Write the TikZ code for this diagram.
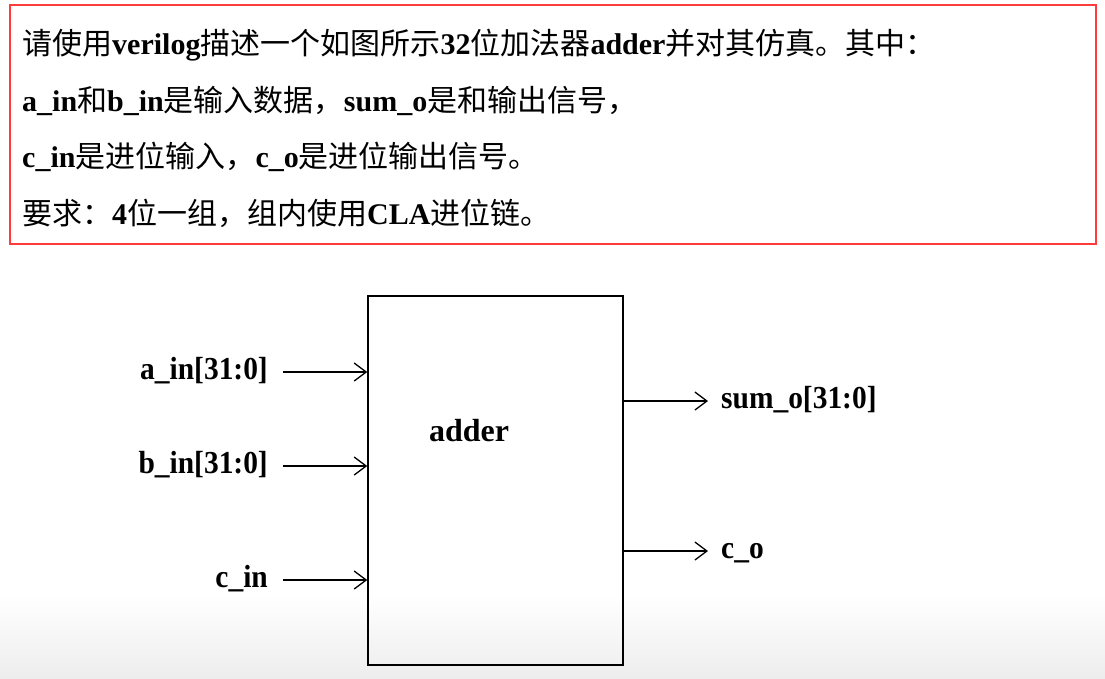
\documentclass[tikz,border=0pt]{standalone}
\usepackage{fontspec}
\usepackage{graphicx}
\setmainfont{Liberation Serif}
\newfontfamily\cjk{Noto Sans CJK SC}
\usetikzlibrary{arrows.meta}
\newcommand\zh[1]{{\cjk\mdseries #1}}
\tikzset{
  every picture/.style={x=1pt,y=-1pt},
  topline/.style={anchor=base west,inner sep=0pt,font=\fontsize{30}{34}\selectfont\bfseries},
  portlab/.style={inner sep=0pt,font=\fontsize{32}{36}\selectfont\bfseries},
  wire/.style={line width=1.3pt,-{Straight Barb[length=12pt,width=18pt,line width=1.3pt]}},
  blockbox/.style={draw,line width=1.5pt,minimum width=255pt,minimum height=369pt,inner sep=0pt}
}
\begin{document}
\begin{tikzpicture}[x=1pt,y=-1pt]
\useasboundingbox (0,0) rectangle (1105,678);
\fill[white] (0,0) rectangle (1105,678);
\shade[top color=white,bottom color=black!7] (0,595) rectangle (1105,678);
% task box
\draw[line width=1.5pt,draw={rgb,255:red,255;green,60;blue,60}] (10,5) rectangle (1096,244);
\node[topline] (t1) at (22,54) {\zh{请使用}verilog\zh{描述一个如图所示}32\zh{位加法器}adder\zh{并对其仿真。其中：}};
\node[topline] (t2) at (22,111) {a\_in\zh{和}b\_in\zh{是输入数据，}sum\_o\zh{是和输出信号，}};
\node[topline] (t3) at (22,167) {c\_in\zh{是进位输入，}c\_o\zh{是进位输出信号。}};
\node[topline] (t4) at (22,224) {\zh{要求：}4\zh{位一组，组内使用}CLA\zh{进位链。}};
% block
\node[blockbox] (box) at (495.5,480.5) {};
\node[portlab,anchor=base] (lbl) at (469,441) {adder};
% input labels
\node[portlab,anchor=base east] (ain) at (268,379) {\scalebox{0.92}[1]{a\_in[31:0]}};
\node[portlab,anchor=base east] (bin) at (268,473) {\scalebox{0.92}[1]{b\_in[31:0]}};
\node[portlab,anchor=base east] (cin) at (268,587) {\scalebox{0.92}[1]{c\_in}};
% output labels
\node[portlab,anchor=base west] (sum) at (721,408) {\scalebox{0.92}[1]{sum\_o[31:0]}};
\node[portlab,anchor=base west] (co) at (721,558) {\scalebox{0.92}[1]{c\_o}};
% wire end points
\coordinate (a0) at (283,372);
\coordinate (b0) at (283,466);
\coordinate (c0) at (283,580);
\coordinate (s1) at (708,401);
\coordinate (o1) at (708,551);
\draw[wire] (a0) -- (a0 -| box.west);
\draw[wire] (b0) -- (b0 -| box.west);
\draw[wire] (c0) -- (c0 -| box.west);
\draw[wire] (s1 -| box.east) -- (s1);
\draw[wire] (o1 -| box.east) -- (o1);
\end{tikzpicture}
\end{document}
